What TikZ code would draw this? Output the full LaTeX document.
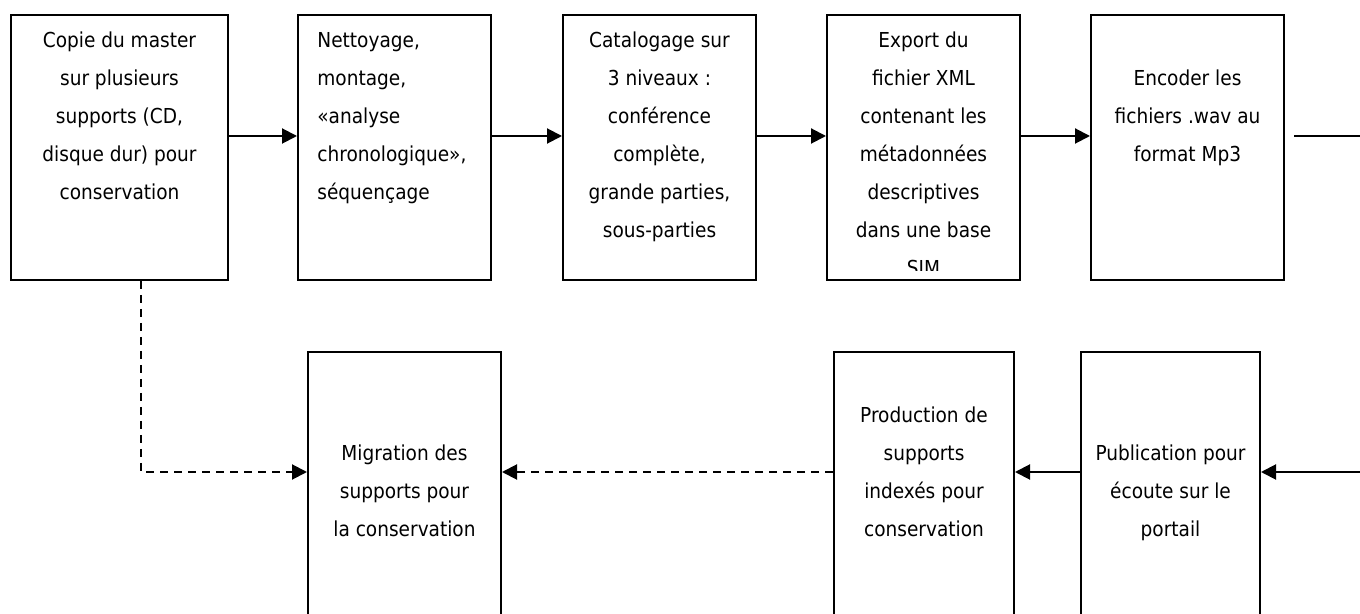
\documentclass[tikz,border=0pt]{standalone}
\usepackage{fontspec}
\setmainfont{DejaVu Sans Condensed}
\usetikzlibrary{arrows.meta,positioning}

\begin{document}
\begin{tikzpicture}[
    x=0.5pt, y=-0.5pt,
    box/.style={rectangle, draw, line width=1pt, minimum width=96.5pt, minimum height=132.5pt, inner sep=0pt},
    lowbox/.style={box, minimum height=141pt},
    txt/.style={align=center, inner sep=0pt, font=\fontsize{10.3}{19}\selectfont},
    arrow/.style={->, >={Triangle[length=7.5pt,width=7.5pt]}, line width=1pt},
    dasharrow/.style={arrow, dash pattern=on 4pt off 3pt}
]
\clip (0,0) rectangle (1360,614);

\node[box, minimum width=108.5pt] (copie) at (119.5,147.5) {};
\node[box] (nettoyage) at (394.5,147.5) {};
\node[box] (catalog) at (659.5,147.5) {};
\node[box] (export) at (923.5,147.5) {};
\node[box] (encodage) at (1187.5,147.5) {};
\node[lowbox] (migration) at (404.5,493) {};
\node[lowbox, minimum width=90pt] (production) at (924,493) {};
\node[lowbox, minimum width=89.5pt] (publication) at (1170.5,493) {};
\coordinate (sortie) at (1360,136);
\coordinate (retour) at (1360,472);

\node[txt, below=3.2pt of copie.north] (copie-txt) {\strut Copie du master\\sur plusieurs\\supports (CD,\\disque dur) pour\\conservation};
\node[txt, align=left, below right=3.2pt and 10pt of nettoyage.north west] (nettoyage-txt) {\strut Nettoyage,\\montage,\\«analyse\\chronologique»,\\séquençage};
\node[txt, below=3.2pt of catalog.north] (catalog-txt) {\strut Catalogage sur\\3 niveaux :\\conférence\\complète,\\grande parties,\\sous-parties};
\begin{scope}
\clip ([yshift=5pt]export.south west) rectangle (export.north east);
\node[txt, below=3.2pt of export.north] (export-txt) {\strut Export du\\fichier XML\\contenant les\\métadonnées\\descriptives\\dans une base\\SIM};
\end{scope}
\node[txt, below=22.2pt of encodage.north] (encodage-txt) {\strut Encoder les\\fichiers .wav au\\format Mp3};
\node[txt, below=41.2pt of migration.north] (migration-txt) {\strut Migration des\\supports pour\\la conservation};
\node[txt, below=22.2pt of production.north] (production-txt) {\strut Production de\\supports\\indexés pour\\conservation};
\node[txt, below=41.2pt of publication.north] (publication-txt) {\strut Publication pour\\écoute sur le\\portail};

\draw[arrow] ([yshift=5.75pt]copie.east) -- ([yshift=5.75pt]nettoyage.west);
\draw[arrow] ([yshift=5.75pt]nettoyage.east) -- ([yshift=5.75pt]catalog.west);
\draw[arrow] ([yshift=5.75pt]catalog.east) -- ([yshift=5.75pt]export.west);
\draw[arrow] ([yshift=5.75pt]export.east) -- ([yshift=5.75pt]encodage.west);
\draw[line width=1pt] ([xshift=4.5pt,yshift=5.75pt]encodage.east) -- (sortie);
\draw[arrow] (retour) -- ([yshift=10.5pt]publication.east);
\draw[arrow] ([yshift=10.5pt]publication.west) -- ([yshift=10.5pt]production.east);
\draw[dasharrow] ([yshift=10.5pt]production.west) -- ([yshift=10.5pt]migration.east);
\draw[dasharrow] ([xshift=10.75pt]copie.south) |- ([yshift=10.5pt]migration.west);
\end{tikzpicture}
\end{document}
